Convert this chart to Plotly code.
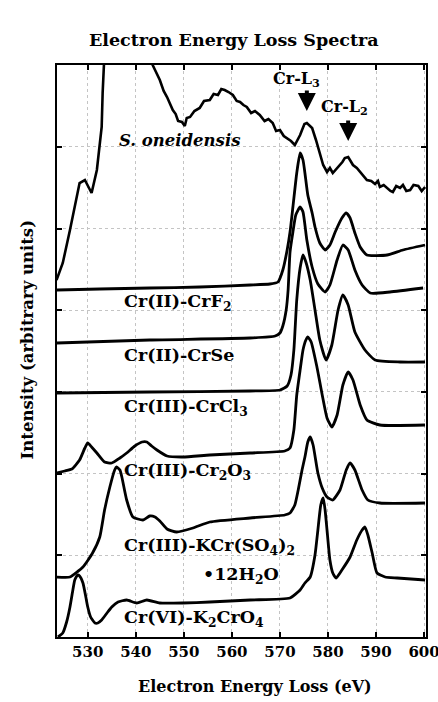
import plotly.graph_objects as go

# ---------------- data ----------------
x_ticks = [530, 540, 550, 560, 570, 580, 590, 600]

sone_e = [523.5, 524.8, 526.3, 527.7, 528.3, 529.4, 530.0, 530.8, 531.9, 532.5, 532.9, 533.1, 533.3, 533.8,
          542.9, 543.5, 545.0, 545.8, 546.5, 547.2, 547.7, 548.3, 548.8, 549.6, 550.2, 550.6, 551.3, 552.2,
          553.3, 554.2, 555.4, 556.2, 557.1, 557.8, 558.5, 559.3, 560.2, 561.0, 561.7, 562.4, 563.1, 564.0,
          564.8, 565.8, 566.8, 567.6, 568.5, 569.2, 570.0, 570.8, 571.5, 572.3, 573.1, 573.6, 574.2, 574.6,
          575.1, 575.6, 576.2, 576.7, 577.5, 578.3, 579.0, 579.8, 580.4, 581.0, 581.8, 582.5, 583.0, 583.5,
          584.2, 584.7, 585.2, 586.0, 586.7, 587.4, 588.1, 589.0, 589.8, 590.4, 590.8, 591.6, 592.3, 593.0,
          593.5, 594.2, 595.0, 595.6, 596.3, 597.1, 597.8, 598.8, 599.5, 600.2]
sone_i = [35.7, 37.4, 40.7, 44.0, 45.4, 45.7, 45.1, 44.4, 46.7, 49.4, 51.0, 54.4, 57.2, 61.7,
          61.7, 57.2, 55.7, 54.6, 54.0, 53.3, 52.7, 52.3, 51.6, 51.5, 51.1, 51.9, 52.0, 52.6,
          52.9, 53.6, 53.7, 54.3, 54.2, 54.8, 54.7, 54.5, 54.2, 53.6, 53.5, 53.2, 53.0, 52.4,
          52.6, 52.2, 51.6, 51.8, 51.4, 50.6, 50.7, 50.1, 49.9, 49.6, 49.2, 49.6, 50.2, 50.7,
          51.3, 51.4, 51.1, 50.9, 49.7, 48.4, 47.2, 46.5, 46.9, 46.4, 46.8, 47.2, 47.5, 47.9,
          48.0, 47.6, 47.2, 46.9, 46.5, 46.2, 45.7, 45.6, 45.3, 45.6, 45.0, 45.2, 44.9, 44.6,
          44.5, 45.1, 44.9, 45.2, 44.6, 44.7, 45.2, 45.1, 44.6, 45.0]

crf2_e = [523.5, 532.5, 542.9, 553.3, 563.8, 567.9, 569.6, 570.6, 571.5, 572.1, 572.7, 573.5, 574.2, 574.8,
          575.2, 575.8, 576.7, 577.3, 578.3, 579.4, 580.4, 581.5, 582.9, 583.8, 584.6, 585.6, 586.7, 588.1,
          592.3, 595.6, 600.2]
crf2_i = [34.7, 34.8, 34.9, 35.0, 35.2, 35.3, 35.5, 36.7, 38.7, 40.5, 43.0, 46.4, 48.4, 47.7,
          46.4, 44.2, 42.4, 41.0, 39.4, 38.7, 39.2, 40.5, 41.9, 42.4, 41.9, 40.4, 39.0, 38.2,
          38.2, 38.7, 39.2]

crse_e = [523.5, 542.9, 563.8, 569.0, 570.0, 570.6, 571.3, 571.7, 572.1, 572.7, 573.3, 574.2, 574.8, 575.6,
          576.7, 577.9, 579.4, 580.4, 581.9, 583.1, 584.2, 585.6, 587.1, 588.8, 592.9, 599.8]
crse_i = [29.4, 29.7, 29.9, 30.1, 30.4, 31.1, 32.7, 34.7, 38.5, 40.5, 42.2, 43.0, 42.5, 39.7,
          37.0, 35.3, 34.5, 35.2, 37.7, 39.2, 38.7, 36.7, 35.2, 34.4, 34.5, 34.9]

crcl3_e = [523.5, 542.9, 563.8, 570.0, 571.5, 572.3, 572.9, 573.5, 574.2, 574.8, 575.4, 576.3, 577.3, 578.3,
           579.6, 580.8, 582.1, 583.1, 584.2, 585.6, 587.7, 589.8, 595.0, 600.2]
crcl3_i = [24.4, 24.5, 24.6, 24.7, 25.1, 26.2, 28.7, 33.7, 36.9, 38.2, 37.5, 35.7, 32.7, 29.7,
           27.7, 29.2, 32.7, 34.2, 33.2, 30.5, 28.7, 27.7, 27.5, 27.5]

cr2o3_e = [523.5, 525.2, 526.7, 528.3, 529.4, 530.0, 530.8, 531.9, 533.5, 535.0, 536.7, 538.1, 539.8, 541.3,
           542.3, 543.3, 544.4, 546.5, 549.8, 555.4, 563.8, 571.0, 572.1, 572.9, 573.5, 574.2, 574.8, 575.4,
           575.8, 576.5, 577.7, 578.8, 579.8, 580.8, 581.9, 583.1, 584.2, 585.2, 586.7, 588.1, 590.8, 600.2]
cr2o3_i = [16.4, 16.6, 16.8, 17.7, 18.9, 19.4, 19.0, 18.4, 17.5, 17.4, 17.9, 18.4, 19.1, 19.5,
           19.5, 19.1, 18.7, 18.1, 18.0, 18.2, 18.4, 18.6, 18.9, 20.7, 24.2, 26.7, 28.7, 29.7,
           30.0, 29.5, 27.0, 24.2, 21.9, 21.0, 22.2, 25.2, 26.5, 25.7, 23.2, 21.7, 21.2, 21.2]

kcr_e = [523.5, 526.3, 529.0, 531.0, 532.5, 533.5, 534.6, 535.6, 536.0, 536.7, 537.1, 538.1, 539.4, 541.5,
         542.9, 544.0, 545.0, 546.5, 548.5, 551.9, 555.4, 563.8, 571.0, 572.1, 573.1, 573.8, 574.6, 575.2,
         575.8, 576.3, 576.9, 577.9, 578.8, 579.8, 581.0, 582.5, 583.8, 584.6, 585.6, 587.1, 588.3, 590.8,
         600.2]
kcr_i = [6.0, 6.0, 7.0, 8.4, 10.0, 12.7, 15.0, 16.7, 17.0, 16.7, 16.0, 13.7, 12.0, 11.7,
         12.1, 12.0, 11.6, 10.8, 10.5, 10.9, 11.5, 11.9, 12.2, 12.4, 13.2, 14.7, 16.7, 18.0,
         19.5, 20.0, 19.2, 16.4, 14.9, 14.0, 13.7, 14.7, 16.7, 17.4, 16.7, 14.7, 13.7, 13.4,
         13.4]

k2cro4_e = [523.8, 524.8, 525.6, 526.3, 526.9, 527.3, 527.9, 528.3, 529.0, 529.6, 530.0, 530.6, 531.5, 532.1,
            532.9, 534.0, 535.0, 536.3, 538.1, 540.2, 542.3, 545.0, 549.8, 555.4, 563.8, 572.1, 574.2, 575.2,
            576.3, 577.3, 577.9, 578.5, 579.0, 579.4, 579.8, 580.4, 581.0, 581.7, 582.9, 584.6, 586.0, 587.1,
            587.7, 588.3, 589.2, 590.2, 591.9, 594.4, 600.2]
k2cro4_i = [0.0, 0.4, 1.5, 3.0, 4.7, 5.7, 6.2, 6.1, 5.4, 4.0, 3.0, 2.0, 1.4, 1.4,
            1.7, 2.4, 3.0, 3.5, 3.7, 3.4, 3.7, 3.4, 3.4, 3.5, 3.7, 3.9, 4.7, 5.4,
            6.0, 8.2, 10.7, 13.2, 13.9, 12.7, 10.7, 7.7, 6.4, 5.9, 6.7, 8.0, 9.7, 10.7,
            11.0, 10.2, 8.4, 6.4, 6.0, 5.9, 5.7]

# labels: (text, energy, intensity)
curve_labels = [
    ("Cr(II)-CrF<sub>2</sub>", 537.1, 33.5),
    ("Cr(II)-CrSe", 537.1, 28.2),
    ("Cr(III)-CrCl<sub>3</sub>", 537.1, 23.0),
    ("Cr(III)-Cr<sub>2</sub>O<sub>3</sub>", 537.1, 16.6),
    ("Cr(III)-KCr(SO<sub>4</sub>)<sub>2</sub>", 537.1, 9.1),
    ("•12H<sub>2</sub>O", 553.6, 6.2),
    ("Cr(VI)-K<sub>2</sub>CrO<sub>4</sub>", 537.1, 1.9),
]

FONT = "DejaVu Serif"

fig = go.Figure()

fig.add_trace(go.Scatter(x=sone_e, y=sone_i, mode="lines",
                         line=dict(color="black", width=2.6), hoverinfo="skip", showlegend=False))
for e, i in [(crf2_e, crf2_i), (crse_e, crse_i), (crcl3_e, crcl3_i), (cr2o3_e, cr2o3_i),
             (kcr_e, kcr_i), (k2cro4_e, k2cro4_i)]:
    fig.add_trace(go.Scatter(x=e, y=i, mode="lines",
                             line=dict(color="black", width=2.8, shape="spline", smoothing=0.5),
                             hoverinfo="skip", showlegend=False))

for txt, e, i in curve_labels:
    fig.add_annotation(x=e, y=i, text=txt, showarrow=False, xanchor="left", yanchor="middle",
                       font=dict(family=FONT, size=17.5, color="black", weight="bold"))

fig.add_annotation(x=549.0, y=49.7, text="<i>S. oneidensis</i>", showarrow=False,
                   xanchor="center", yanchor="middle",
                   font=dict(family=FONT, size=16.5, color="black", weight="bold"))
fig.add_annotation(x=573.4, y=55.8, text="Cr-L<sub>3</sub>", showarrow=False,
                   xanchor="center", yanchor="middle",
                   font=dict(family=FONT, size=16, color="black", weight="bold"))
fig.add_annotation(x=583.4, y=53.0, text="Cr-L<sub>2</sub>", showarrow=False,
                   xanchor="center", yanchor="middle",
                   font=dict(family=FONT, size=16, color="black", weight="bold"))
# arrows
fig.add_annotation(x=575.6, y=52.6, ax=0, ay=-22, text="", showarrow=True,
                   arrowhead=2, arrowsize=0.9, arrowwidth=4, arrowcolor="black")
fig.add_annotation(x=584.2, y=49.6, ax=0, ay=-22, text="", showarrow=True,
                   arrowhead=2, arrowsize=0.9, arrowwidth=4, arrowcolor="black")

# axis titles & title
fig.add_annotation(xref="paper", yref="paper", x=0.537, y=-0.087, text="Electron Energy Loss (eV)",
                   xanchor="center", yanchor="middle", showarrow=False,
                   font=dict(family=FONT, size=16, color="black", weight="bold"))
fig.add_annotation(xref="paper", yref="paper", x=-0.079, y=0.52, text="Intensity (arbitrary units)",
                   xanchor="center", yanchor="middle", textangle=-90, showarrow=False,
                   font=dict(family=FONT, size=16.5, color="black", weight="bold"))
fig.add_annotation(xref="paper", yref="paper", x=0.48, y=1.0 + 25 / 572,
                   xanchor="center", yanchor="middle",
                   text="Electron Energy Loss Spectra", showarrow=False,
                   font=dict(family=FONT, size=17.5, color="black", weight="bold"))

fig.update_xaxes(range=[523.6, 600.4], tickvals=x_ticks, ticktext=[str(t) for t in x_ticks],
                 ticks="inside", ticklen=5, tickwidth=1.5, tickcolor="black",
                 showline=True, linecolor="black", linewidth=2, mirror="ticks",
                 showgrid=True, gridcolor="#c4c4c4", griddash="dot", gridwidth=1,
                 zeroline=False, automargin=False, ticklabeloverflow="allow",
                 tickfont=dict(family=FONT, size=15, color="black", weight="bold"))
fig.update_yaxes(range=[0, 57.2], dtick=8.17, tick0=0, showticklabels=False,
                 ticks="inside", ticklen=5, tickwidth=1.5, tickcolor="black",
                 showline=True, linecolor="black", linewidth=2, mirror="ticks",
                 showgrid=True, gridcolor="#c4c4c4", griddash="dot", gridwidth=1,
                 zeroline=False, automargin=False)

fig.update_layout(width=438, height=702, margin=dict(l=57, r=12, t=65, b=65, autoexpand=False),
                  plot_bgcolor="white", paper_bgcolor="white", showlegend=False)

fig.write_html("out.html", config={"displayModeBar": False},
               post_script="document.body.style.margin='0';document.body.style.overflow='hidden';")
